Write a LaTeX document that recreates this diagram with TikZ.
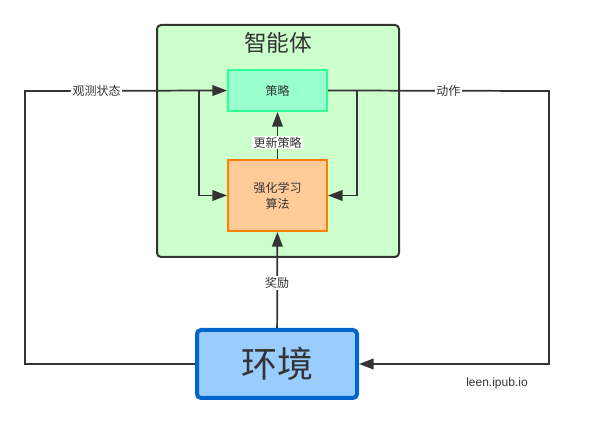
\documentclass[tikz,border=0pt]{standalone}
\usepackage{fontspec}
\setmainfont{Noto Sans CJK SC}
\newfontfamily\latin{Liberation Sans}
\usetikzlibrary{arrows.meta,positioning}
\definecolor{ink}{HTML}{333333}
\definecolor{agentfill}{HTML}{CCFFCC}
\definecolor{policyfill}{HTML}{99FFCC}
\definecolor{policyline}{HTML}{33FF99}
\definecolor{algofill}{HTML}{FFCC99}
\definecolor{algoline}{HTML}{FF8000}
\definecolor{envfill}{HTML}{99CCFF}
\definecolor{envline}{HTML}{0066CC}
\tikzset{
  flow/.style={draw=ink, line width=1.3pt, -{Triangle[length=11pt,width=8pt]}},
  flowlabel/.style={fill=white, inner sep=1pt, text=ink, font=\fontsize{9}{10}\selectfont},
  block/.style={draw, line width=1.5pt, text=ink, align=center, font=\fontsize{9}{12}\selectfont}
}
\begin{document}
\begin{tikzpicture}[x=0.75pt,y=-0.75pt]
    \useasboundingbox (0,0) rectangle (604,423);
    \node[draw=ink, fill=agentfill, line width=1.5pt, rounded corners=3pt, minimum width=181.5pt, minimum height=174pt] (agent) at (278,141) {}; % agent frame
    \node[text=ink, font=\fontsize{17}{20}\selectfont, below=3pt of agent.north] (title) {智能体}; % agent title
    \node[block, draw=policyline, fill=policyfill, minimum width=74.25pt, minimum height=30.75pt] (policy) at (277.5,90.5) {策略}; % policy
    \node[block, draw=algoline, fill=algofill, minimum width=74.25pt, minimum height=53.25pt] (algo) at (277.5,195.5) {强化学习\\算法}; % learning algorithm
    \node[draw=envline, fill=envfill, line width=3pt, rounded corners=3pt, text=ink, font=\fontsize{27}{30}\selectfont, minimum width=120pt, minimum height=51pt] (env) at (277,364) {环境}; % environment
    \coordinate (obsL) at (25,91); % left corner
    \coordinate (actR) at (549,91); % right corner
    \coordinate (splitL) at (199,91);
    \coordinate (splitR) at (357,91);
    \draw[flow] (env.west) -- (env.west -| obsL) -- (obsL) -- node[flowlabel, pos=0.355] {观测状态} (policy.west); % observation
    \draw[flow] (policy.east) -- node[flowlabel, pos=0.545] {动作} (actR) -- (actR |- env.east) -- (env.east); % action
    \draw[flow] (splitL) |- (algo.west); % state to algorithm
    \draw[flow] (splitR) |- (algo.east); % action to algorithm
    \draw[flow] (algo) -- node[flowlabel, pos=0.35] {更新策略} (policy); % update
    \draw[flow] (env) -- node[flowlabel, pos=0.47] {奖励} (algo); % reward
    \node[text=ink, font=\latin\fontsize{9}{10}\selectfont] (site) at (497,383) {leen.ipub.io}; % watermark
\end{tikzpicture}
\end{document}
